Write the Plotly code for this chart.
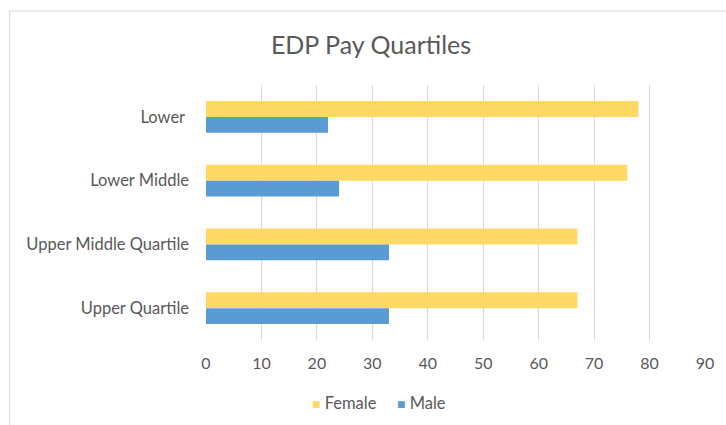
import plotly.graph_objects as go

categories = ["Lower\u00a0", "Lower Middle", "Upper Middle Quartile", "Upper Quartile"]
female = [78, 76, 67, 67]
male = [22, 24, 33, 33]
x_ticks = [0, 10, 20, 30, 40, 50, 60, 70, 80, 90]
series_names = ["Female", "Male"]
series_colors = ["#FFD966", "#5B9BD5"]

W, H = 726, 425
L, R, T, B = 206, 18, 85, 85
pw, ph = W - L - R, H - T - B

def px_x(p):
    return (p - L) / pw

def px_y(p):
    return (H - B - p) / ph

FONT = "Lato"
GRAY = "#595959"

fig = go.Figure()
for name, vals, col in zip(series_names, [female, male], series_colors):
    fig.add_trace(go.Bar(y=categories, x=vals, name=name, orientation="h",
                         marker=dict(color=col, line=dict(width=0)),
                         showlegend=False))

# legend drawn as annotations to match the compact Excel-style legend
legend_x = [317, 402]
annotations = []
for name, col, lx in zip(series_names, series_colors, legend_x):
    annotations.append(dict(
        xref="paper", yref="paper", x=px_x(lx - 6), y=px_y(403),
        xanchor="left", yanchor="middle", showarrow=False,
        text=f'<span style="color:{col};font-size:14px">■</span> {name}',
        font=dict(family=FONT, size=16.5, color=GRAY)))

fig.update_layout(
    width=W, height=H,
    margin=dict(l=L, r=R, t=T, b=B, pad=0),
    paper_bgcolor="white", plot_bgcolor="white",
    barmode="group", bargap=0.5, bargroupgap=0,
    font=dict(family=FONT, color=GRAY, size=16),
    title=dict(text="EDP Pay Quartiles", x=371 / W, xanchor="center",
               y=1 - 45 / H, yanchor="middle",
               font=dict(family=FONT, size=25, color=GRAY)),
    showlegend=False,
    annotations=annotations,
    xaxis=dict(range=[0, 90], tickvals=x_ticks, showgrid=True,
               gridcolor="#D9D9D9", gridwidth=1, zeroline=False,
               showline=False, ticks="", ticklabelstandoff=12,
               tickfont=dict(family=FONT, size=16, color=GRAY), fixedrange=True),
    yaxis=dict(autorange="reversed", showgrid=False, zeroline=False,
               showline=False, ticks="", ticklabelstandoff=16,
               tickfont=dict(family=FONT, size=16.5, color=GRAY)),
    shapes=[dict(type="rect", xref="paper", yref="paper",
                 x0=px_x(8.5), x1=px_x(740), y0=px_y(440), y1=px_y(11),
                 line=dict(color="#D9D9D9", width=1), fillcolor="rgba(0,0,0,0)",
                 layer="below")],
)

fig.write_html("out.html", config={"displayModeBar": False},
               post_script="document.body.style.margin='0';")
